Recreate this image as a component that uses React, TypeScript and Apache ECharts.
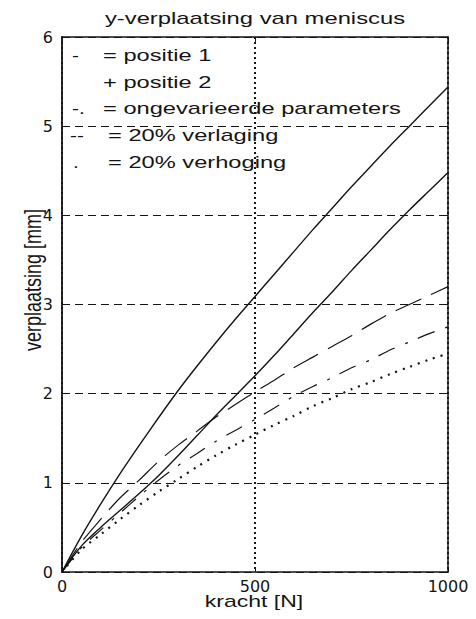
import React, { useEffect, useRef } from "react";
import * as echarts from "echarts";

const force = [0, 50, 100, 150, 200, 250, 300, 350, 400, 450, 500, 550, 600, 650, 700, 750, 800, 850, 900, 950, 1000];
const positie1 = [0, 0.40, 0.76, 1.10, 1.42, 1.73, 2.03, 2.31, 2.58, 2.84, 3.09, 3.34, 3.59, 3.84, 4.08, 4.32, 4.55, 4.78, 5.00, 5.22, 5.44];
const positie2 = [0, 0.29, 0.50, 0.69, 0.88, 1.08, 1.30, 1.53, 1.76, 1.98, 2.20, 2.43, 2.67, 2.91, 3.14, 3.38, 3.61, 3.84, 4.06, 4.27, 4.48];
const verlaging = [0, 0.33, 0.59, 0.83, 1.03, 1.24, 1.42, 1.58, 1.74, 1.88, 2.02, 2.15, 2.29, 2.41, 2.53, 2.65, 2.78, 2.90, 3.00, 3.10, 3.20];
const ongevarieerd = [0, 0.27, 0.47, 0.66, 0.85, 1.03, 1.19, 1.33, 1.47, 1.59, 1.71, 1.84, 1.97, 2.08, 2.18, 2.29, 2.38, 2.49, 2.58, 2.67, 2.75];
const verhoging = [0, 0.25, 0.42, 0.59, 0.75, 0.90, 1.04, 1.18, 1.31, 1.43, 1.54, 1.65, 1.75, 1.86, 1.95, 2.05, 2.13, 2.22, 2.30, 2.38, 2.45];

const xTicks = { min: 0, max: 1000, interval: 500 };
const yTicks = { min: 0, max: 6, interval: 1 };

const titleText = "y-verplaatsing van meniscus";
const xName = "kracht [N]";
const yName = "verplaatsing [mm]";
const legendMarks = ["-", "", "-.", "--", "."];
const legendTexts = ["= positie 1", "+ positie 2", "= ongevarieerde parameters", "= 20% verlaging", "= 20% verhoging"];

const INK = "#151515";
const FONT = "'Liberation Sans', Arial, sans-serif";
const TICKFONT = "'DejaVu Sans', sans-serif";

export default function App() {
  const ref = useRef<HTMLDivElement>(null);
  useEffect(() => {
    if (!ref.current) return;
    const chart = echarts.init(ref.current, undefined, { renderer: "svg" });
    const mk = (arr: number[]) => force.map((f, i) => [f, arr[i]]);
    const line = (name: string, arr: number[], type: any, width: number) => ({
      name,
      type: "line",
      data: mk(arr),
      symbol: "none",
      smooth: 0.3,
      xAxisIndex: 0,
      yAxisIndex: 0,
      lineStyle: { color: INK, width, type },
    });
    const legendRowsY = [55, 82, 108, 135, 162];
    const markX = [72, 0, 72, 70, 73];
    const textX = [103, 103, 103, 108, 108];
    const graphics: any[] = [
      {
        type: "text",
        x: 255,
        y: 18,
        scaleX: 1.4,
        style: { text: titleText, font: `17px ${FONT}`, fill: INK, textAlign: "center", textVerticalAlign: "middle" },
      },
      {
        type: "text",
        x: 254,
        y: 601,
        scaleX: 1.44,
        style: { text: xName, font: `16px ${FONT}`, fill: INK, textAlign: "center", textVerticalAlign: "middle" },
      },
      {
        type: "text",
        x: 33,
        y: 280,
        rotation: Math.PI / 2,
        scaleY: 1.35,
        style: { text: yName, font: `18px ${FONT}`, fill: INK, textAlign: "center", textVerticalAlign: "middle" },
      },
    ];
    legendTexts.forEach((t, i) => {
      if (legendMarks[i]) {
        graphics.push({
          type: "text",
          x: markX[i],
          y: legendRowsY[i],
          scaleX: 1.3,
          style: { text: legendMarks[i], font: `16px ${FONT}`, fill: INK, textAlign: "left", textVerticalAlign: "middle" },
        });
      }
      graphics.push({
        type: "text",
        x: textX[i],
        y: legendRowsY[i],
        scaleX: 1.48,
        style: { text: t, font: `16px ${FONT}`, fill: INK, textAlign: "left", textVerticalAlign: "middle" },
      });
    });

    chart.setOption({
      animation: false,
      backgroundColor: "#ffffff",
      grid: { left: 62, right: 28, top: 37, bottom: 47, containLabel: false },
      xAxis: [
        {
          type: "value",
          ...xTicks,
          position: "bottom",
          axisLine: { show: true, onZero: false, lineStyle: { color: INK, width: 1.5 } },
          axisTick: { show: true, inside: true, length: 5, lineStyle: { color: INK } },
          axisLabel: { show: true, color: INK, fontFamily: TICKFONT, fontSize: 16, margin: 6, formatter: (v: number) => String(v) },
          splitLine: { show: true, lineStyle: { color: INK, width: 2, type: [2, 3] } },
        },
        {
          type: "value",
          ...xTicks,
          position: "top",
          axisLine: { show: true, onZero: false, lineStyle: { color: INK, width: 1.5 } },
          axisTick: { show: true, inside: true, length: 5, lineStyle: { color: INK } },
          axisLabel: { show: false },
          splitLine: { show: false },
        },
      ],
      yAxis: [
        {
          type: "value",
          ...yTicks,
          position: "left",
          axisLine: { show: true, onZero: false, lineStyle: { color: INK, width: 1.8 } },
          axisTick: { show: true, inside: true, length: 5, lineStyle: { color: INK } },
          axisLabel: { show: true, color: INK, fontFamily: TICKFONT, fontSize: 16, margin: 9, formatter: (v: number) => String(v) },
          splitLine: { show: true, lineStyle: { color: INK, width: 1.2, type: [8, 5] } },
        },
        {
          type: "value",
          ...yTicks,
          position: "right",
          axisLine: { show: true, onZero: false, lineStyle: { color: INK, width: 1.5 } },
          axisTick: { show: true, inside: true, length: 5, lineStyle: { color: INK } },
          axisLabel: { show: false },
          splitLine: { show: false },
        },
      ],
      series: [
        line("positie 1", positie1, "solid", 1.4),
        line("positie 2", positie2, "solid", 1.4),
        line("20% verlaging", verlaging, [28, 11], 1.2),
        line("ongevarieerde parameters", ongevarieerd, [18, 11, 3, 11], 1.2),
        line("20% verhoging", verhoging, [2, 6], 2.2),
      ],
      graphic: graphics,
    });
    return () => chart.dispose();
  }, []);
  return <div ref={ref} style={{ position: "fixed", left: 0, top: 0, width: 476, height: 619, background: "#fff" }} />;
}
